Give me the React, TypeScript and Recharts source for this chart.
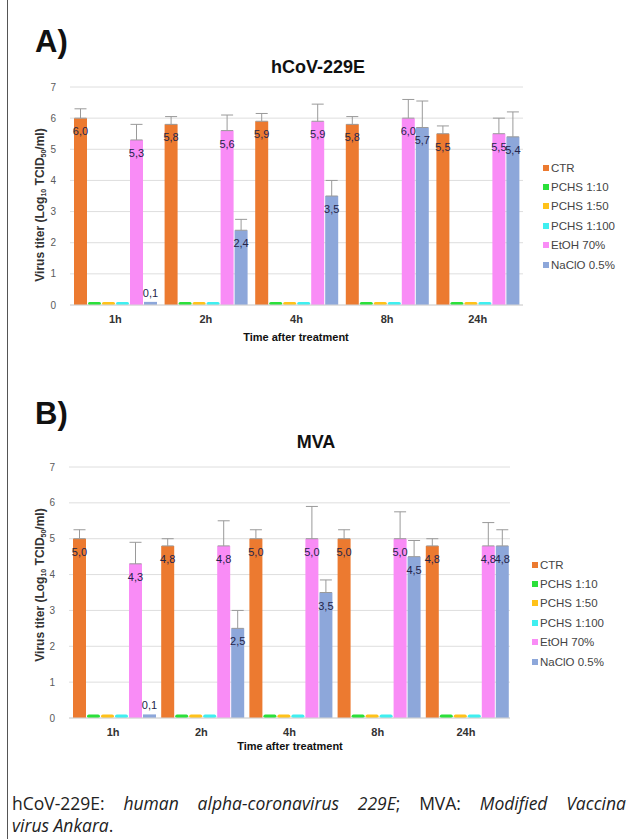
import { BarChart, Bar, XAxis, YAxis, CartesianGrid, ErrorBar, LabelList } from "recharts";

const categories = ["1h", "2h", "4h", "8h", "24h"];
const seriesNames = ["CTR", "PCHS 1:10", "PCHS 1:50", "PCHS 1:100", "EtOH 70%", "NaClO 0.5%"];
const seriesColors = ["#EC7A30", "#2BE03A", "#FFC21A", "#3FEFF0", "#F98CF6", "#8DA7DA"];
const yTicks = [0, 1, 2, 3, 4, 5, 6, 7];

// hCoV-229E
const hcovCTR = [6.0, 5.8, 5.9, 5.8, 5.5];
const hcovPCHS10 = [0.1, 0.1, 0.1, 0.1, 0.1];
const hcovPCHS50 = [0.1, 0.1, 0.1, 0.1, 0.1];
const hcovPCHS100 = [0.1, 0.1, 0.1, 0.1, 0.1];
const hcovEtOH = [5.3, 5.6, 5.9, 6.0, 5.5];
const hcovNaClO = [0.1, 2.4, 3.5, 5.7, 5.4];
const hcovCTRErr = [0.3, 0.25, 0.25, 0.25, 0.25];
const hcovEtOHErr = [0.5, 0.5, 0.55, 0.6, 0.5];
const hcovNaClOErr = [0, 0.35, 0.5, 0.85, 0.8];

// MVA
const mvaCTR = [5.0, 4.8, 5.0, 5.0, 4.8];
const mvaPCHS10 = [0.1, 0.1, 0.1, 0.1, 0.1];
const mvaPCHS50 = [0.1, 0.1, 0.1, 0.1, 0.1];
const mvaPCHS100 = [0.1, 0.1, 0.1, 0.1, 0.1];
const mvaEtOH = [4.3, 4.8, 5.0, 5.0, 4.8];
const mvaNaClO = [0.1, 2.5, 3.5, 4.5, 4.8];
const mvaCTRErr = [0.25, 0.2, 0.25, 0.25, 0.2];
const mvaEtOHErr = [0.6, 0.7, 0.9, 0.75, 0.65];
const mvaNaClOErr = [0, 0.5, 0.35, 0.45, 0.45];

const buildRows = (ctr, p10, p50, p100, etoh, naclo, ctrErr, etohErr, nacloErr) =>
  categories.map((cat, i) => ({
    cat,
    ctr: ctr[i],
    p10: p10[i],
    p50: p50[i],
    p100: p100[i],
    etoh: etoh[i],
    naclo: naclo[i],
    ctrErr: [0, ctrErr[i]],
    etohErr: [0, etohErr[i]],
    nacloErr: nacloErr[i] ? [0, nacloErr[i]] : null,
  }));

const hcovData = buildRows(hcovCTR, hcovPCHS10, hcovPCHS50, hcovPCHS100, hcovEtOH, hcovNaClO, hcovCTRErr, hcovEtOHErr, hcovNaClOErr);
const mvaData = buildRows(mvaCTR, mvaPCHS10, mvaPCHS50, mvaPCHS100, mvaEtOH, mvaNaClO, mvaCTRErr, mvaEtOHErr, mvaNaClOErr);

const FONT = "'Liberation Sans', Arial, sans-serif";

const ValueLabel = (props: any) => {
  const { x, y, width, value } = props;
  const txt = Number(value).toFixed(1).replace(".", ",");
  const small = value < 1;
  return (
    <text
      x={x + width / 2}
      y={small ? y - 5 : y + 17}
      textAnchor="middle"
      fontSize={11}
      fontFamily={FONT}
      fill="#24244a"
    >
      {txt}
    </text>
  );
};

const Panel = ({ data, top, height, margin }: any) => (
  <div style={{ position: "absolute", left: 0, top }}>
    <BarChart width={630} height={height} data={data} margin={margin} barCategoryGap={4} barGap={1}>
      <CartesianGrid vertical={false} stroke="#dedede" />
      <XAxis
        dataKey="cat"
        tickSize={0}
        tickMargin={10}
        axisLine={{ stroke: "#d4d4d4" }}
        tick={{ fontSize: 11, fontWeight: 700, fill: "#333", fontFamily: FONT }}
      />
      <YAxis
        domain={[0, 7]}
        ticks={yTicks}
        width={50}
        tickSize={0}
        tickMargin={14}
        axisLine={false}
        tick={{ fontSize: 10, fill: "#5a5a5a", fontFamily: FONT }}
      />
      <Bar dataKey="ctr" fill={seriesColors[0]} isAnimationActive={false}>
        <ErrorBar dataKey="ctrErr" width={6} stroke="#9a9a9a" strokeWidth={1} />
        <LabelList dataKey="ctr" content={ValueLabel} />
      </Bar>
      <Bar dataKey="p10" fill={seriesColors[1]} radius={3} isAnimationActive={false} />
      <Bar dataKey="p50" fill={seriesColors[2]} radius={3} isAnimationActive={false} />
      <Bar dataKey="p100" fill={seriesColors[3]} radius={3} isAnimationActive={false} />
      <Bar dataKey="etoh" fill={seriesColors[4]} isAnimationActive={false}>
        <ErrorBar dataKey="etohErr" width={6} stroke="#9a9a9a" strokeWidth={1} />
        <LabelList dataKey="etoh" content={ValueLabel} />
      </Bar>
      <Bar dataKey="naclo" fill={seriesColors[5]} isAnimationActive={false}>
        <ErrorBar dataKey="nacloErr" width={6} stroke="#9a9a9a" strokeWidth={1} />
        <LabelList dataKey="naclo" content={ValueLabel} />
      </Bar>
    </BarChart>
  </div>
);

const LegendBox = ({ left, top }: any) => (
  <div style={{ position: "absolute", left, top, fontFamily: FONT, fontSize: 11.5, color: "#444" }}>
    {seriesNames.map((n, i) => (
      <div key={n} style={{ display: "flex", alignItems: "center", height: 19.4 }}>
        <span style={{ width: 6, height: 6, background: seriesColors[i], marginRight: 2 }} />
        {n}
      </div>
    ))}
  </div>
);

const YTitle = ({ x, y }: any) => (
  <div
    style={{
      position: "absolute",
      left: x,
      top: y,
      transform: "translate(-50%, -50%) rotate(-90deg)",
      whiteSpace: "nowrap",
      fontFamily: FONT,
      fontWeight: 700,
      fontSize: 12,
      color: "#333",
      lineHeight: "14px",
    }}
  >
    Virus titer (Log<sub style={{ fontSize: 7, verticalAlign: "-2px" }}>10</sub> TCID
    <sub style={{ fontSize: 7, verticalAlign: "-2px" }}>50</sub>/ml)
  </div>
);

const Centered = ({ x, y, size, children, weight = 700 }: any) => (
  <div
    style={{
      position: "absolute",
      left: x,
      top: y,
      transform: "translate(-50%, -50%)",
      whiteSpace: "nowrap",
      fontFamily: FONT,
      fontWeight: weight,
      fontSize: size,
      color: "#111",
    }}
  >
    {children}
  </div>
);

const noteStyle = {
  fontFamily: "'Open Sans', sans-serif",
  fontWeight: 400,
  fontSize: 17.5,
  lineHeight: "22px",
  color: "#222",
};

export default function App() {
  return (
    <div style={{ position: "absolute", left: 0, top: 0, width: 630, height: 839, background: "#fff", overflow: "hidden" }}>
      <div style={{ position: "absolute", left: 7, top: 0, width: 1, height: 839, background: "#555" }} />

      <div style={{ position: "absolute", left: 35, top: 24, fontFamily: FONT, fontWeight: 700, fontSize: 31, color: "#111" }}>A)</div>
      <Centered x={318} y={67} size={18}>hCoV-229E</Centered>
      <Panel data={hcovData} top={0} height={360} margin={{ top: 87, right: 107, bottom: 25, left: 20 }} />
      <YTitle x={42} y={205} />
      <Centered x={296} y={337} size={11}>Time after treatment</Centered>
      <LegendBox left={543} top={158} />

      <div style={{ position: "absolute", left: 35, top: 396, fontFamily: FONT, fontWeight: 700, fontSize: 31, color: "#111" }}>B)</div>
      <Centered x={316} y={442} size={18}>MVA</Centered>
      <Panel data={mvaData} top={380} height={380} margin={{ top: 87, right: 120, bottom: 12, left: 19 }} />
      <YTitle x={42} y={585} />
      <Centered x={290} y={746} size={11}>Time after treatment</Centered>
      <LegendBox left={532} top={555} />

      <div style={{ position: "absolute", left: 12, top: 792, width: 614 }}>
        <div style={{ ...noteStyle, textAlign: "justify", textAlignLast: "justify" }}>
          hCoV-229E: <i>human alpha-coronavirus 229E</i>; MVA: <i>Modified Vaccina</i>
        </div>
        <div style={noteStyle}>
          <i>virus Ankara</i>.
        </div>
      </div>
    </div>
  );
}
